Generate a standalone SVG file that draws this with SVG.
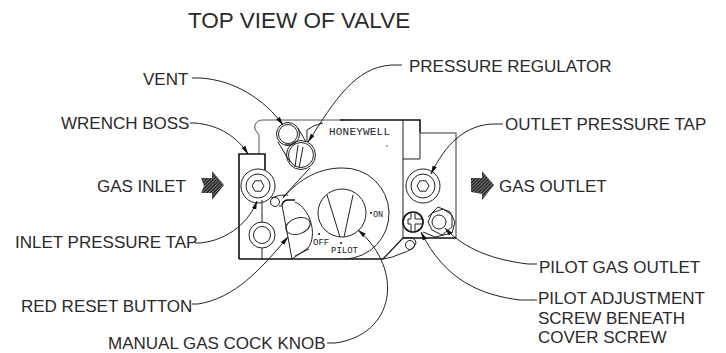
<svg xmlns="http://www.w3.org/2000/svg" width="726" height="353" viewBox="0 0 726 353">
<style>
.l{font-family:"Liberation Sans",Arial,sans-serif;font-size:17px;fill:#2a2a2a}
.t{font-family:"Liberation Sans",Arial,sans-serif;font-size:22.500px;fill:#2a2a2a}
.m{font-family:"Liberation Mono",monospace;font-size:9px;fill:#222}
.s{fill:none;stroke:#222;stroke-width:1}
.b{fill:none;stroke:#111;stroke-width:1.600}
.g{fill:none;stroke:#777;stroke-width:1.500}
.c{fill:none;stroke:#222;stroke-width:1;marker-end:url(#a)}
</style>
<defs>
<marker id="a" markerUnits="userSpaceOnUse" markerWidth="9" markerHeight="6" refX="8.500" refY="3" orient="auto"><path d="M0,0.800L9,3L0,5.200z" fill="#111"/></marker>
<pattern id="h" width="2.400" height="2.400" patternUnits="userSpaceOnUse" patternTransform="rotate(-45)"><rect width="2.400" height="2.400" fill="#2c2c2c"/><rect width="2.400" height="0.700" fill="#8a8a8a"/></pattern>
</defs>
<rect width="726" height="353" fill="#fff"/>
<text class="t" x="188" y="28">TOP VIEW OF VALVE</text>
<g id="valve-body">
<path class="s" d="M259,154V135Q258,133 256,131Q254,128 255,125Q257,120 263,120H345" style="stroke:#555"/>
<path class="b" d="M340,120H420V133"/>
<path class="g" d="M420,133H456V238"/>
<path class="s" d="M403,120V238M403,159H420V133"/>
<path class="b" d="M403,238H456M239,259H383"/>
<path class="b" d="M239,259V154H265V170"/>
<path class="s" d="M262,200V223M262,248V259"/>
<path class="s" d="M323,123Q313,125 307,130V142"/>
<path class="s" d="M283,198C300,178 320,168 342,168A45.500,45.500 0 1 1 345,259"/>
<path class="b" d="M403,238L383,259" style="stroke-width:1.200"/>
<path class="s" d="M403,238Q416,236 416,243Q414,250 400,254Q392,258 383,259"/>
<circle class="s" cx="410" cy="245" r="4.500"/>
<text class="m" x="329" y="135" style="font-size:11px;letter-spacing:.2px">HONEYWELL</text>
<circle cx="387" cy="146" r=".7" fill="#222"/>
</g>
<g id="vent"><circle class="s" cx="288" cy="134" r="11.500"/><circle class="s" cx="288" cy="134" r="9.500"/></g>
<g id="pressure-regulator">
<circle class="s" cx="301" cy="155" r="14.500"/><circle class="s" cx="301" cy="155" r="12.500"/>
<path class="s" d="M298,145L295,167M303,147L299,168M278,142L290,162M298,128L306,142M285,145Q291,146 296,142"/>
</g>
<g id="inlet-pressure-tap"><circle class="s" cx="258" cy="186" r="17"/><circle class="s" cx="258" cy="186" r="12"/><path class="s" d="M252,186L255,180.800H261L264,186L261,191.200H255Z"/></g>
<g id="lower-port"><circle class="s" cx="262" cy="235" r="13"/><circle class="s" cx="262" cy="235" r="8.500"/></g>
<g id="outlet-pressure-tap"><circle class="s" cx="423" cy="186" r="17"/><circle class="s" cx="423" cy="186" r="12"/><path class="s" d="M417,186L420,180.800H426L429,186L426,191.200H420Z"/></g>
<g id="pilot-adjustment-screw"><circle cx="413" cy="222" r="10" fill="none" stroke="#111" stroke-width="1.600"/><path class="s" d="M411,212V219H408V224H411V232M415,212V219H423V224H415V232"/></g>
<g id="pilot-gas-outlet"><path class="s" d="M428,217L438,207L450,212L455,222L452,233L435,237L423,232"/><path class="s" d="M428,222L432,213L443,209L452,215V227L442,235L432,230Z"/><circle class="s" cx="439" cy="222" r="7"/></g>
<g id="gas-cock-knob">
<circle class="s" cx="342" cy="213" r="24"/>
<path class="s" d="M327,195L340,237M353,195L344,237"/>
<text class="m" x="313" y="245">OFF</text>
<text class="m" x="331" y="253">PILOT</text>
<text class="m" x="373" y="217" style="font-size:8.500px">ON</text>
<circle cx="319" cy="234" r="1" fill="#111"/><circle cx="341" cy="243" r="1" fill="#111"/><circle cx="371" cy="213" r="1" fill="#111"/>
</g>
<g id="red-reset-button">
<path class="s" d="M282,205L292,259"/>
<path class="b" d="M282,205Q283,201 287,200H295"/>
<path class="s" d="M295,202C310,208 318,235 308,248L292,259M295,256L309,249"/>
<ellipse class="s" cx="298" cy="226" rx="12.500" ry="8" transform="rotate(-18 298 226)"/>
<circle class="s" cx="275" cy="202" r="4.500"/>
<path class="s" d="M271,198Q280,194 288,195M279,206H282"/>
</g>
<g id="gas-inlet-arrow"><path d="M201,178H212V171L224,185L212,200V193H201L204,186Z" fill="url(#h)"/></g>
<g id="gas-outlet-arrow"><path d="M471,178H482V171L494,185L482,200V194L471,192Z" fill="url(#h)"/></g>
<g id="connectors">
<path class="c" d="M192,78H200C235,80 265,100 283,125"/>
<path class="c" d="M402,65H392C355,67 335,100 308,142"/>
<path class="c" d="M190,123H195C220,125 238,138 248,154"/>
<path class="c" d="M503,124H495C465,124 445,145 431,174"/>
<path class="c" d="M195,243H200C230,240 250,220 257,201"/>
<path class="c" d="M192,304H198C235,298 260,270 288,237"/>
<path class="c" d="M327,343H335C395,335 405,270 358,230"/>
<path class="c" d="M537,264H528C495,260 465,250 445,228"/>
<path class="c" d="M537,300H520C480,295 445,280 421,232"/>
<path class="s" d="M283,197L310,168"/>
</g>
<g id="labels">
<text class="l" x="143" y="85">VENT</text>
<text class="l" x="409" y="72">PRESSURE REGULATOR</text>
<text class="l" x="61" y="129">WRENCH BOSS</text>
<text class="l" x="505" y="130">OUTLET PRESSURE TAP</text>
<text class="l" x="97" y="192">GAS INLET</text>
<text class="l" x="499" y="192">GAS OUTLET</text>
<text class="l" x="15" y="248">INLET PRESSURE TAP</text>
<text class="l" x="21" y="312">RED RESET BUTTON</text>
<text class="l" x="108" y="349">MANUAL GAS COCK KNOB</text>
<text class="l" x="539" y="273">PILOT GAS OUTLET</text>
<text class="l" x="538" y="304">PILOT ADJUSTMENT</text>
<text class="l" x="538" y="324">SCREW BENEATH</text>
<text class="l" x="538" y="343">COVER SCREW</text>
</g>
</svg>
